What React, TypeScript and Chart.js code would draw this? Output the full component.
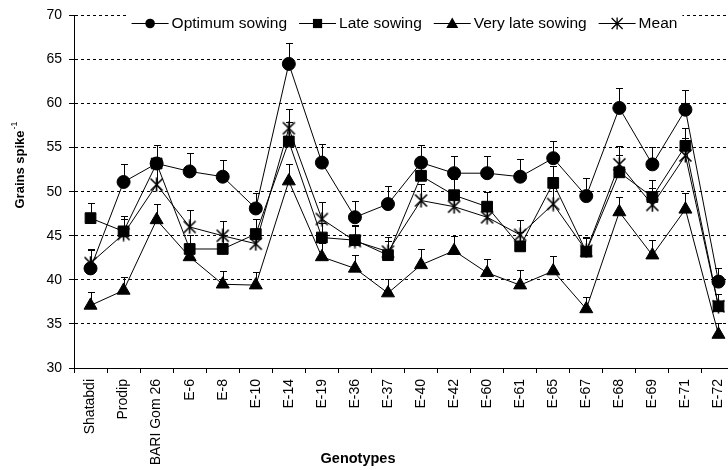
import React, { useEffect, useRef } from "react";
import { Chart, registerables } from "chart.js";

Chart.register(...registerables);

const genotypes = [
  "Shatabdi", "Prodip", "BARI Gom 26", "E-6", "E-8", "E-10", "E-14", "E-19", "E-36", "E-37",
  "E-40", "E-42", "E-60", "E-61", "E-65", "E-67", "E-68", "E-69", "E-71", "E-72",
];

const optimumSowing = [41.3, 51.1, 53.2, 52.3, 51.7, 48.1, 64.5, 53.3, 47.1, 48.6, 53.3, 52.1, 52.1, 51.7, 53.8, 49.5, 59.5, 53.1, 59.3, 39.8];
const lateSowing = [47.0, 45.5, 53.2, 43.5, 43.5, 45.2, 55.7, 44.8, 44.5, 42.8, 51.8, 49.6, 48.3, 43.8, 51.0, 43.2, 52.2, 49.4, 55.2, 37.0];
const veryLateSowing = [37.1, 38.8, 46.8, 42.6, 39.5, 39.4, 51.2, 42.6, 41.3, 38.5, 41.7, 43.3, 40.8, 39.4, 41.0, 36.7, 47.7, 42.8, 48.0, 33.8];
const meanValues = [41.9, 45.2, 50.8, 46.0, 45.0, 44.1, 57.2, 46.9, 44.4, 43.2, 49.0, 48.3, 47.1, 45.1, 48.6, 43.3, 53.1, 48.5, 54.1, 37.0];

const optimumErr = [2.1, 2.0, 2.1, 2.05, 1.9, 1.75, 2.4, 2.1, 1.9, 2.0, 2.0, 2.0, 2.0, 2.0, 2.0, 2.0, 2.3, 2.0, 2.2, 1.6];
const lateErr = [1.75, 1.7, 2.1, 1.6, 1.6, 1.65, 2.2, 1.7, 1.7, 1.6, 1.9, 1.8, 1.7, 1.6, 1.9, 1.6, 2.0, 1.9, 2.0, 1.4];
const veryLateErr = [1.5, 1.5, 1.85, 1.5, 1.5, 1.5, 1.9, 1.6, 1.5, 1.6, 1.75, 1.7, 1.6, 1.7, 1.7, 1.4, 1.7, 1.7, 1.8, 1.3];
const meanErr = [1.6, 1.65, 2.0, 1.9, 1.65, 1.65, 2.2, 1.9, 1.7, 1.7, 1.9, 1.8, 1.75, 1.7, 1.8, 1.6, 2.1, 1.9, 2.0, 1.4];

const yTicks = [30, 35, 40, 45, 50, 55, 60, 65, 70];

const FONT = '"Liberation Sans", Arial, sans-serif';

function makeStar(size: number): HTMLCanvasElement {
  const c = document.createElement("canvas");
  c.width = size;
  c.height = size;
  const ctx = c.getContext("2d")!;
  ctx.strokeStyle = "#000";
  ctx.lineWidth = 1.6;
  const m = size / 2;
  ctx.beginPath();
  ctx.moveTo(m, 0.5);
  ctx.lineTo(m, size - 0.5);
  ctx.moveTo(1.5, 1.5);
  ctx.lineTo(size - 1.5, size - 1.5);
  ctx.moveTo(size - 1.5, 1.5);
  ctx.lineTo(1.5, size - 1.5);
  ctx.stroke();
  return c;
}

function drawLegendMarker(ctx: CanvasRenderingContext2D, kind: string, x: number, y: number) {
  ctx.fillStyle = "#000";
  ctx.strokeStyle = "#000";
  ctx.lineWidth = 1;
  ctx.beginPath();
  if (kind === "circle") {
    ctx.arc(x, y, 4.8, 0, Math.PI * 2);
    ctx.fill();
  } else if (kind === "rect") {
    ctx.rect(x - 4.6, y - 4.6, 9.2, 9.2);
    ctx.fill();
  } else if (kind === "triangle") {
    ctx.moveTo(x, y - 6);
    ctx.lineTo(x + 6, y + 4.5);
    ctx.lineTo(x - 6, y + 4.5);
    ctx.closePath();
    ctx.fill();
  } else {
    ctx.lineWidth = 1.3;
    ctx.moveTo(x, y - 6);
    ctx.lineTo(x, y + 6);
    ctx.moveTo(x - 5.5, y - 5.5);
    ctx.lineTo(x + 5.5, y + 5.5);
    ctx.moveTo(x + 5.5, y - 5.5);
    ctx.lineTo(x - 5.5, y + 5.5);
    ctx.stroke();
  }
}

const errorBarPlugin = {
  id: "errorBars",
  afterDatasetsDraw(chart: any) {
    const ctx = chart.ctx;
    const yScale = chart.scales.y;
    ctx.save();
    ctx.strokeStyle = "#000";
    ctx.lineWidth = 1;
    chart.data.datasets.forEach((ds: any, i: number) => {
      const meta = chart.getDatasetMeta(i);
      const errs: number[] = ds.errors || [];
      meta.data.forEach((pt: any, j: number) => {
        const v = ds.data[j];
        const e = errs[j];
        if (v == null || e == null) return;
        const x = Math.round(pt.x) + 0.5;
        const y0 = pt.y;
        const y1 = Math.round(yScale.getPixelForValue(v + e)) + 0.5;
        ctx.beginPath();
        ctx.moveTo(x, y0);
        ctx.lineTo(x, y1);
        ctx.moveTo(x - 3.5, y1);
        ctx.lineTo(x + 3.5, y1);
        ctx.stroke();
      });
    });
    ctx.restore();
  },
};

const legendTitlePlugin = {
  id: "legendTitles",
  afterDraw(chart: any) {
    const ctx: CanvasRenderingContext2D = chart.ctx;
    const area = chart.chartArea;
    ctx.save();
    // Legend
    ctx.font = `15.5px ${FONT}`;
    const lineLen = 37;
    const gapTxt = 3;
    const gapItem = 12;
    const items = chart.data.datasets.map((ds: any) => ({
      label: ds.label as string,
      kind: ds.legendKind as string,
      w: ctx.measureText(ds.label).width,
    }));
    let total = 0;
    items.forEach((it: any, i: number) => {
      total += lineLen + gapTxt + it.w + (i < items.length - 1 ? gapItem : 0);
    });
    let x = (area.left + area.right) / 2 - total / 2;
    const y = 23;
    ctx.fillStyle = "#fff";
    ctx.fillRect(x - 5, y - 11, total + 10, 22);
    items.forEach((it: any) => {
      ctx.strokeStyle = "#000";
      ctx.lineWidth = 1;
      ctx.beginPath();
      ctx.moveTo(x, y + 0.5);
      ctx.lineTo(x + lineLen, y + 0.5);
      ctx.stroke();
      drawLegendMarker(ctx, it.kind, x + lineLen / 2, y + 0.5);
      ctx.fillStyle = "#000";
      ctx.font = `15.5px ${FONT}`;
      ctx.textBaseline = "middle";
      ctx.textAlign = "left";
      ctx.fillText(it.label, x + lineLen + gapTxt, y + 1);
      x += lineLen + gapTxt + it.w + gapItem;
    });

    // X title
    ctx.fillStyle = "#000";
    ctx.font = `bold 14.5px ${FONT}`;
    ctx.textAlign = "center";
    ctx.textBaseline = "middle";
    ctx.fillText("Genotypes", 358, 459);

    // Y title with superscript
    const main = "Grains spike";
    const sup = "-1";
    ctx.font = `bold 13px ${FONT}`;
    const wMain = ctx.measureText(main).width;
    ctx.font = `9px ${FONT}`;
    const wSup = ctx.measureText(sup).width;
    const tot = wMain + wSup + 1;
    ctx.translate(20, 165);
    ctx.rotate(-Math.PI / 2);
    ctx.textAlign = "left";
    ctx.textBaseline = "middle";
    ctx.font = `bold 13px ${FONT}`;
    ctx.fillText(main, -tot / 2, 0);
    ctx.font = `9px ${FONT}`;
    ctx.fillText(sup, -tot / 2 + wMain + 1, -5);
    ctx.restore();
  },
};

export default function App() {
  const canvasRef = useRef<HTMLCanvasElement | null>(null);

  useEffect(() => {
    if (!canvasRef.current) return;
    Chart.defaults.font.family = FONT;
    Chart.defaults.color = "#000";
    const star = makeStar(15);
    const common = {
      borderColor: "#000",
      backgroundColor: "#000",
      pointBackgroundColor: "#000",
      pointBorderColor: "#000",
      borderWidth: 1,
      pointBorderWidth: 1,
      tension: 0,
      fill: false,
    };
    const chart = new Chart(canvasRef.current, {
      type: "line",
      data: {
        labels: genotypes,
        datasets: [
          { ...common, label: "Optimum sowing", data: optimumSowing, errors: optimumErr, legendKind: "circle", pointStyle: "circle", pointRadius: 6.5 } as any,
          { ...common, label: "Late sowing", data: lateSowing, errors: lateErr, legendKind: "rect", pointStyle: "rect", pointRadius: 7.6 } as any,
          { ...common, label: "Very late sowing", data: veryLateSowing, errors: veryLateErr, legendKind: "triangle", pointStyle: "triangle", pointRadius: 7.5 } as any,
          { ...common, label: "Mean", data: meanValues, errors: meanErr, legendKind: "star", pointStyle: star, pointRadius: 7.5 } as any,
        ],
      },
      options: {
        responsive: false,
        animation: false,
        events: [],
        layout: { padding: { top: 15, right: 10, bottom: 0, left: 0 } },
        plugins: {
          legend: { display: false },
          title: { display: false },
          tooltip: { enabled: false },
        },
        scales: {
          x: {
            type: "category",
            offset: true,
            afterFit: (scale: any) => {
              scale.height = 102;
            },
            grid: {
              display: true,
              offset: true,
              drawOnChartArea: false,
              drawTicks: true,
              tickLength: 5,
              tickColor: "#000",
              color: "#000",
            },
            border: { display: true, color: "#000", width: 1 },
            ticks: {
              autoSkip: false,
              minRotation: 90,
              maxRotation: 90,
              padding: 6,
              color: "#000",
              font: { size: 14, family: FONT },
            },
            title: { display: false },
          },
          y: {
            min: 30,
            max: 70,
            afterFit: (scale: any) => {
              scale.width = 74;
            },
            afterBuildTicks: (scale: any) => {
              scale.ticks = yTicks.map((v) => ({ value: v }));
            },
            grid: {
              display: true,
              drawOnChartArea: true,
              drawTicks: true,
              tickLength: 5,
              tickColor: "#000",
              color: "#000",
              lineWidth: 1,
            },
            border: { display: true, color: "#000", width: 1, dash: [3, 3] },
            ticks: {
              padding: 7,
              color: "#000",
              font: { size: 14, family: FONT },
            },
            title: { display: false },
          },
        },
      } as any,
      plugins: [errorBarPlugin, legendTitlePlugin],
    });
    return () => {
      chart.destroy();
    };
  }, []);

  return (
    <div
      style={{
        position: "absolute",
        left: 0,
        top: 0,
        width: 728,
        height: 470,
        overflow: "hidden",
        background: "#fff",
      }}
    >
      <canvas ref={canvasRef} width={745} height={470} style={{ display: "block" }} />
    </div>
  );
}
